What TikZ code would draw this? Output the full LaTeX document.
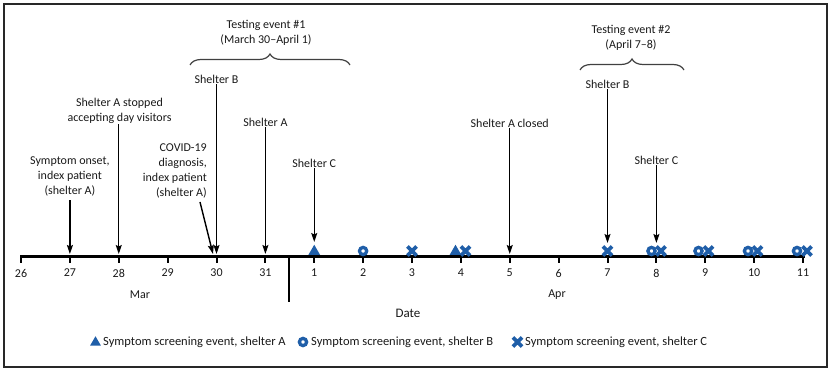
\documentclass[tikz,border=0pt]{standalone}
\usepackage{fontspec}
\setmainfont{Carlito}
\usetikzlibrary{arrows.meta,shapes.geometric,shapes.misc,decorations.pathreplacing}
\definecolor{mk}{RGB}{31,94,168}
\definecolor{frm}{RGB}{40,40,40}
\begin{document}
\begin{tikzpicture}[x=1pt,y=-1pt,
  lbl/.style={font=\fontsize{12}{14.8}\selectfont, align=center, inner sep=1pt, text=black!90},
  leg/.style={font=\fontsize{12.5}{15}\selectfont, inner sep=1pt, text=black!90},
  arr/.style={line width=1.4pt, -{Stealth[length=9pt,width=6pt,inset=1.5pt]}},
  brc/.style={decorate, decoration={brace, amplitude=11pt}, line width=1.2pt, draw=black!75},
  mtri/.style={regular polygon, regular polygon sides=3, fill=mk, inner sep=0pt, minimum size=13.5pt},
  mcirc/.style={circle, draw=mk, line width=3.3pt, inner sep=0pt, minimum size=7.2pt},
  mcross/.style={cross out, draw=mk, line width=3.6pt, inner sep=0pt, minimum size=5.5pt}]
\useasboundingbox (0,0) rectangle (832,371);
\draw[line width=2pt, draw=frm] (4,4) rectangle (827,367);
% axis
\coordinate (axL) at (20,256.5);
\coordinate (axR) at (805,256.5);
\draw[line width=2.5pt] (axL) -- (axR);
\foreach \d [count=\i from 0] in {26,27,28,29,30,31,1,2,3,4,5,6,7,8,9,10,11}{
  \pgfmathsetmacro\xx{21+48.875*\i}
  \draw[line width=2pt] (\xx,256.5) -- (\xx,263);
  \node[lbl] (t\i) at (\xx,273) {\d};
}
\coordinate (dvT) at (289,256.5);
\coordinate (dvB) at (289,302);
\draw[line width=2pt] (dvT) -- (dvB);
\node[lbl] (mar) at (140,295) {Mar};
\node[lbl] (apr) at (557,295) {Apr};
\node[lbl, font=\fontsize{13}{15}\selectfont] (date) at (408,313) {Date};
% markers
\node[mtri] (a1) at (314.25,251.5) {};
\node[mcirc] (b2) at (363.1,251) {};
\node[mcross] (c3) at (412,251) {};
\node[mtri] (a4) at (455.5,251.5) {};
\node[mcross] (c4) at (465.5,251) {};
\node[mcross] (c7) at (607.5,251) {};
\node[mcirc] (b8) at (651.5,251) {};
\node[mcross] (c8) at (661,251) {};
\node[mcirc] (b9) at (698.5,251) {};
\node[mcross] (c9) at (708.5,251) {};
\node[mcirc] (b10) at (748,251) {};
\node[mcross] (c10) at (757.5,251) {};
\node[mcirc] (b11) at (797,251) {};
\node[mcross] (c11) at (807,251) {};
% arrow targets
\coordinate (e27) at (69.9,254);
\coordinate (e28) at (118.75,254);
\coordinate (e30a) at (213,254);
\coordinate (e30) at (216.5,254);
\coordinate (e31) at (265.4,254);
\coordinate (e1) at (314.25,242);
\coordinate (e5) at (509.75,254);
\coordinate (e7) at (607.5,243);
\coordinate (e8) at (656.4,243);
% labels
\node[lbl] (l27) at (69.9,176.5) {Symptom onset,\\index patient\\(shelter A)};
\node[lbl] (l28) at (119.5,110.5) {Shelter A stopped\\accepting day visitors};
\node[lbl, align=right, anchor=south east] (l30a) at (208,199) {COVID-19\\diagnosis,\\index patient\\(shelter A)};
\node[lbl] (l30) at (216.5,79) {Shelter B};
\node[lbl] (l31) at (265.4,122) {Shelter A};
\node[lbl] (l1) at (314.25,163) {Shelter C};
\node[lbl] (l5) at (509.75,123) {Shelter A closed};
\node[lbl] (l7) at (607.5,84) {Shelter B};
\node[lbl] (l8) at (656.4,160) {Shelter C};
\draw[arr, shorten <=3pt] (l27.south) -- (e27);
\draw[arr] (l28.south -| e28) -- (e28);
\draw[arr] ([shift={(-8,3)}]l30a.south east) -- (e30a);
\draw[arr] (l30.south) -- (e30);
\draw[arr] (l31.south) -- (e31);
\draw[arr] (l1.south) -- (e1);
\draw[arr] (l5.south) -- (e5);
\draw[arr] (l7.south) -- (e7);
\draw[arr] (l8.south) -- (e8);
% testing events
\node[lbl] (te1) at (266,32.5) {Testing event \#1\\(March 30–April 1)};
\node[lbl] (te2) at (631,37.5) {Testing event \#2\\(April 7–8)};
\coordinate (b1L) at (190,65);
\coordinate (b1R) at (350,65);
\coordinate (b2L) at (580,70);
\coordinate (b2R) at (684,70);
\draw[brc] (b1L) -- (b1R);
\draw[brc] (b2L) -- (b2R);
% legend
\node[mtri, minimum size=12.5pt] (ga) at (95.5,342.5) {};
\node[leg, anchor=west] (la) at (102,342) {Symptom screening event, shelter A};
\node[mcirc] (gb) at (303,342) {};
\node[leg, anchor=west] (lb) at (310,342) {Symptom screening event, shelter B};
\node[mcross] (gc) at (517.5,342) {};
\node[leg, anchor=west] (lc) at (524,342) {Symptom screening event, shelter C};
\end{tikzpicture}
\end{document}
